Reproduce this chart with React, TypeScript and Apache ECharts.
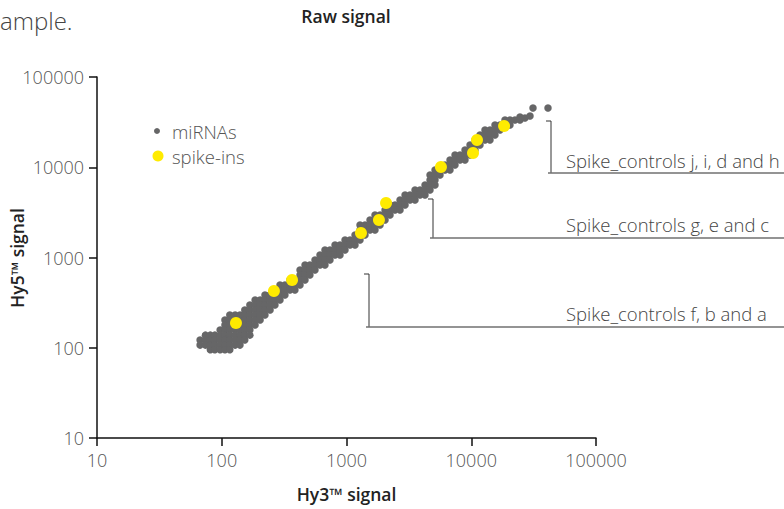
import React, { useEffect, useRef } from "react";
import * as echarts from "echarts";

const FONT = "'Open Sans', Roboto, 'DejaVu Sans', sans-serif";

// Axis ticks (log scale)
const tickValues = [10, 100, 1000, 10000, 100000];
const xAxisName = "Hy3™ signal";
const yAxisName = "Hy5™ signal";

// Spike-in controls (Hy3 signal, Hy5 signal)
const spikeIns: [number, number][] = [
  [130, 188],
  [262, 425],
  [366, 563],
  [1306, 1866],
  [1820, 2606],
  [2075, 4018],
  [5715, 10070],
  [10330, 14390],
  [11120, 20050],
  [18330, 28640],
];

// miRNA signals (Hy3 signal, Hy5 signal)
const miRNAs: [number, number][] = [
  [67, 122], [67, 107],
  [74, 138], [74, 122], [74, 107],
  [81, 138], [81, 122], [81, 107], [81, 95],
  [88, 138], [88, 122], [88, 107], [88, 95],
  [97, 157], [97, 138], [97, 122], [97, 107], [97, 95],
  [106, 203], [106, 179], [106, 157], [106, 138], [106, 122], [106, 107], [106, 95],
  [116, 231], [116, 203], [116, 179], [116, 157], [116, 138], [116, 122], [116, 107], [116, 95],
  [128, 231], [128, 203], [128, 179], [128, 157], [128, 138], [128, 122], [128, 107],
  [140, 231], [140, 203], [140, 179], [140, 157], [140, 138], [140, 122], [140, 107],
  [153, 262], [153, 231], [153, 203], [153, 179], [153, 157], [153, 138], [153, 122],
  [168, 298], [168, 262], [168, 231], [168, 203], [168, 179], [168, 157], [168, 138],
  [185, 338], [185, 298], [185, 262], [185, 231], [185, 203], [185, 179],
  [203, 338], [203, 298], [203, 262], [203, 231], [203, 203],
  [222, 384], [222, 338], [222, 298], [222, 262], [222, 231],
  [244, 384], [244, 338], [244, 298], [244, 262],
  [267, 436], [267, 384], [267, 338], [267, 298],
  [293, 495], [293, 436], [293, 384], [293, 338],
  [321, 495], [321, 436], [321, 384],
  [352, 563], [352, 495], [352, 436],
  [386, 563], [386, 495], [386, 436],
  [424, 727], [424, 640], [424, 563], [424, 495],
  [465, 826], [465, 727], [465, 640], [465, 563],
  [509, 826], [509, 727], [509, 640],
  [559, 938], [559, 826], [559, 727],
  [613, 1066], [613, 938], [613, 826],
  [672, 1211], [672, 1066], [672, 938], [672, 826],
  [737, 1211], [737, 1066], [737, 938],
  [809, 1376], [809, 1211], [809, 1066],
  [887, 1376], [887, 1211], [887, 1066],
  [973, 1563], [973, 1376], [973, 1211],
  [1067, 1563], [1067, 1376],
  [1170, 1776], [1170, 1563], [1170, 1376],
  [1283, 2292], [1283, 2018], [1283, 1776], [1283, 1563],
  [1407, 2292], [1407, 2018], [1407, 1776],
  [1543, 2604], [1543, 2292], [1543, 2018],
  [1692, 2959], [1692, 2604], [1692, 2292], [1692, 2018],
  [1857, 2959], [1857, 2604], [1857, 2292],
  [2037, 3361], [2037, 2959], [2037, 2604],
  [2233, 3819], [2233, 3361], [2233, 2959],
  [2449, 3819], [2449, 3361],
  [2686, 4338], [2686, 3819], [2686, 3361],
  [2946, 4929], [2946, 4338], [2946, 3819],
  [3230, 4929], [3230, 4338],
  [3542, 5600], [3542, 4929], [3542, 4338],
  [3884, 5600], [3884, 4929],
  [4259, 6361], [4259, 5600], [4259, 4929],
  [4671, 8211], [4671, 7227], [4671, 6361], [4671, 5600],
  [5122, 9328], [5122, 8211], [5122, 7227], [5122, 6361],
  [5617, 9328], [5617, 8211],
  [6160, 10598], [6160, 9328],
  [6755, 12040], [6755, 10598], [6755, 9328],
  [7408, 13679], [7408, 12040], [7408, 10598],
  [8124, 13679], [8124, 12040],
  [8909, 15541], [8909, 13679], [8909, 12040],
  [9770, 17656], [9770, 15541], [9770, 13679],
  [10714, 20058], [10714, 17656], [10714, 15541],
  [11750, 22788], [11750, 20058], [11750, 17656],
  [12885, 25889], [12885, 22788], [12885, 20058],
  [14130, 25889], [14130, 22788], [14130, 20058],
  [15496, 29412], [15496, 25889], [15496, 22788],
  [16993, 29412], [16993, 25889],
  [18636, 33415], [18636, 29412],
  [20437, 33415], [20437, 29412],
  [22412, 33415],
  [24578, 36060], [24578, 33415],
  [26953, 35160],
  [29580, 36980], [31260, 45400], [41230, 45400],
];

const legendItems = ["miRNAs", "spike-ins"];
const annotations = [
  "Spike_controls j, i, d and h",
  "Spike_controls g, e and c",
  "Spike_controls f, b and a",
];

const GRAY = "#666667";
const YELLOW = "#ffeb00";

export default function App() {
  const ref = useRef<HTMLDivElement>(null);
  useEffect(() => {
    if (!ref.current) return;
    const chart = echarts.init(ref.current, null, { renderer: "svg" });
    const axisCommon = {
      type: "log",
      logBase: 10,
      min: tickValues[0],
      max: tickValues[tickValues.length - 1],
      nameLocation: "middle",
      nameTextStyle: { fontSize: 17.5, fontWeight: 600, color: "#222", fontFamily: FONT },
      axisLine: { lineStyle: { color: "#111", width: 1.5 } },
      axisTick: { length: 8, lineStyle: { color: "#111", width: 1.5 } },
      axisLabel: {
        color: "#555",
        fontSize: 18,
        fontWeight: 300,
        fontFamily: FONT,
        margin: 13,
        formatter: (v: number) => String(Math.round(v)),
      },
      splitLine: { show: false },
      minorTick: { show: false },
    };
    const bracket = (x: number, top: number, bottom: number) => [
      {
        type: "polyline",
        shape: { points: [[x - 5, top], [x, top], [x, bottom]] },
        style: { stroke: "#333", lineWidth: 1, fill: null },
      },
      {
        type: "line",
        shape: { x1: x - 3, y1: bottom, x2: 784, y2: bottom },
        style: { stroke: "#707070", lineWidth: 1.5 },
      },
    ];
    const txt = (x: number, y: number, text: string, extra: any = {}) => ({
      type: "text",
      x,
      y,
      style: {
        text,
        fontSize: 18.5,
        fontWeight: 300,
        fontFamily: FONT,
        fill: "#444",
        verticalAlign: "middle",
        align: "left",
        ...extra,
      },
    });
    chart.setOption({
      animation: false,
      grid: { left: 97, right: 188, top: 77, bottom: 71, containLabel: false, outerBoundsMode: "none" },
      xAxis: { ...axisCommon, name: xAxisName, nameGap: 47 },
      yAxis: { ...axisCommon },
      series: [
        {
          name: legendItems[0],
          type: "scatter",
          data: miRNAs,
          symbolSize: 7.5,
          itemStyle: { color: GRAY, opacity: 1 },
          z: 2,
        },
        {
          name: legendItems[1],
          type: "scatter",
          data: spikeIns,
          symbolSize: 12,
          itemStyle: { color: YELLOW, opacity: 1 },
          z: 3,
        },
      ],
      graphic: [
        txt(0, 20, "ample.", { fontSize: 24, fill: "#444" }),
        txt(346, 16, "Raw signal", { align: "center", fontWeight: 600, fontSize: 17.5, fill: "#222" }),
        {
          type: "text",
          x: 17,
          y: 258,
          rotation: Math.PI / 2,
          style: {
            text: yAxisName,
            fontSize: 17.5,
            fontWeight: 600,
            fontFamily: FONT,
            fill: "#222",
            align: "center",
            verticalAlign: "middle",
          },
        },
        { type: "circle", shape: { cx: 157, cy: 131, r: 3 }, style: { fill: GRAY } },
        txt(172, 131, legendItems[0], { fill: "#555" }),
        { type: "circle", shape: { cx: 158, cy: 156, r: 5.5 }, style: { fill: YELLOW } },
        txt(172, 156, legendItems[1], { fill: "#555" }),
        ...bracket(551, 121, 173),
        ...bracket(433, 199, 238),
        ...bracket(369, 274, 327),
        txt(566, 160, annotations[0]),
        txt(566, 224, annotations[1]),
        txt(566, 313, annotations[2]),
      ],
    });
    return () => chart.dispose();
  }, []);
  return (
    <div
      ref={ref}
      style={{ position: "fixed", left: 0, top: 0, width: 784, height: 509, background: "#fff" }}
    />
  );
}
